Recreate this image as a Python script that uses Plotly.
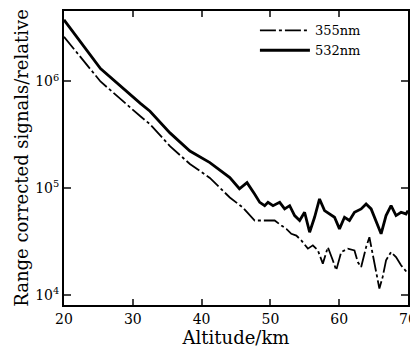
import plotly.graph_objects as go

# Altitude (km) and range-corrected signals (relative)
alt_532 = [20.0, 25.3, 31.1, 32.5, 35.4, 38.3, 41.2, 44.1, 45.5, 46.6, 47.7, 48.45, 49.17,
           49.65, 50.38, 51.35, 52.07, 52.8, 53.52, 54.25, 54.97, 55.7, 56.42, 57.14, 57.87,
           58.59, 59.32, 60.04, 60.77, 61.49, 62.22, 63.19, 63.91, 64.64, 65.36, 66.09,
           66.81, 67.54, 68.26, 68.99, 69.71, 70.0]
sig_532 = [3.78e6, 1.32e6, 6.24e5, 5.26e5, 3.30e5, 2.23e5, 1.74e5, 1.26e5, 9.9e4, 1.13e5,
           8.83e4, 7.38e4, 6.87e4, 7.38e4, 6.87e4, 7.38e4, 6.41e4, 6.87e4, 5.55e4, 4.99e4,
           5.96e4, 3.88e4, 5.35e4, 7.94e4, 6.18e4, 5.75e4, 5.35e4, 4.17e4, 5.35e4, 4.99e4,
           5.96e4, 6.41e4, 7.13e4, 6.41e4, 4.99e4, 3.75e4, 5.55e4, 6.87e4, 5.55e4, 5.96e4,
           5.75e4, 6.18e4]

alt_355 = [20.0, 25.3, 31.1, 32.5, 35.4, 38.3, 41.2, 44.1, 46.0, 47.72, 49.17, 50.62, 51.59,
           52.32, 53.04, 53.77, 54.49, 55.45, 56.17, 56.9, 57.62, 58.35, 59.07, 59.57, 60.29,
           61.25, 62.22, 62.7, 63.19, 63.91, 64.39, 64.87, 65.36, 65.84, 66.32, 66.81, 67.54,
           68.26, 68.99, 70.0]
sig_355 = [2.62e6, 1.0e6, 4.72e5, 3.98e5, 2.48e5, 1.69e5, 1.25e5, 8.2e4, 6.6e4, 4.99e4,
           4.99e4, 4.99e4, 4.48e4, 4.17e4, 3.75e4, 3.61e4, 3.25e4, 2.72e4, 2.92e4, 2.62e4,
           1.97e4, 2.81e4, 2.12e4, 1.71e4, 2.53e4, 2.72e4, 2.62e4, 2.04e4, 1.83e4, 2.81e4,
           3.48e4, 2.44e4, 1.71e4, 1.15e4, 1.48e4, 2.12e4, 2.53e4, 2.27e4, 1.90e4, 1.59e4]

y_tickvals = [1e4, 1e5, 1e6]
y_ticktext = ["10<sup>4</sup>", "10<sup>5</sup>", "10<sup>6</sup>"]
x_tickvals = [20, 30, 40, 50, 60, 70]

font_family = "DejaVu Serif"

fig = go.Figure()
fig.add_trace(go.Scatter(x=alt_355, y=sig_355, mode="lines", name="355nm",
                         line=dict(color="black", width=1.8, dash="16px,3px,3px,3px")))
fig.add_trace(go.Scatter(x=alt_532, y=sig_532, mode="lines", name="532nm",
                         line=dict(color="black", width=2.8)))

fig.update_layout(
    width=410, height=345,
    margin=dict(l=56, r=9, t=1, b=48),
    paper_bgcolor="white", plot_bgcolor="white",
    font=dict(family=font_family, size=14, color="black"),
    showlegend=True,
    legend=dict(x=0.555, y=0.985, xanchor="left", yanchor="top",
                bgcolor="rgba(0,0,0,0)", font=dict(size=13, family=font_family),
                tracegroupgap=0, itemwidth=50),
)
fig.update_xaxes(
    range=[20, 70], tickvals=x_tickvals, ticks="inside", ticklen=6, tickwidth=1.5,
    showline=True, linecolor="black", linewidth=2, mirror="ticks", showgrid=False,
    zeroline=False, tickfont=dict(size=14, family=font_family),
    title=dict(text="Altitude/km", font=dict(size=18, family=font_family), standoff=6),
)
fig.update_yaxes(
    type="log", range=[3.907, 6.660], tickvals=y_tickvals, ticktext=y_ticktext,
    ticks="inside", ticklen=7, tickwidth=1.5,
    showline=True, linecolor="black", linewidth=2, mirror="ticks", showgrid=False,
    zeroline=False, tickfont=dict(size=14, family=font_family),
    title=dict(text="Range corrected signals/relative",
               font=dict(size=18, family=font_family), standoff=2),
)

fig.write_html("out.html")
